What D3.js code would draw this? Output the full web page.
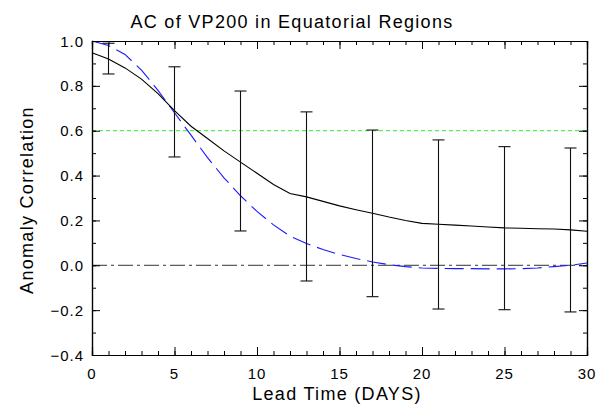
<!DOCTYPE html>
<html><head><meta charset="utf-8">
<script src="https://cdn.jsdelivr.net/npm/d3@7"></script>
<style>body{margin:0;background:#fff}svg{display:block}text{font-family:"Liberation Sans",Arial,sans-serif;fill:#000}</style>
</head><body>
<script>
const days = d3.range(0, 31);
const acBlack = [0.948,0.92,0.88,0.83,0.765,0.69,0.62,0.565,0.51,0.46,0.41,0.36,0.32,0.305,0.285,0.265,0.248,0.232,0.215,0.2,0.187,0.183,0.179,0.175,0.171,0.167,0.165,0.163,0.162,0.158,0.152];
const acBlue = [1.0,0.98,0.94,0.87,0.78,0.68,0.58,0.48,0.39,0.31,0.24,0.18,0.13,0.097,0.07,0.048,0.03,0.015,0.003,-0.006,-0.012,-0.014,-0.015,-0.015,-0.016,-0.016,-0.015,-0.012,-0.006,0.0,0.01];
const errDays = [1,5,9,13,17,21,25,29];
const errLow = [0.853,0.483,0.153,-0.07,-0.14,-0.195,-0.198,-0.208];
const errHigh = [0.99,0.885,0.777,0.684,0.603,0.559,0.529,0.523];
const xTicks = [0,5,10,15,20,25,30];
const yTicks = [-0.4,-0.2,0.0,0.2,0.4,0.6,0.8,1.0];
const refGreen = 0.6, refZero = 0.0;

const W=606,H=409;
const svg=d3.select("body").append("svg").attr("width",W).attr("height",H);
const L=92,R=587,T=41,B=355;
const x=d3.scaleLinear().domain([0,30]).range([L,R]);
const y=d3.scaleLinear().domain([-0.4,1.0]).range([B,T]);

// reference lines
svg.append("line").attr("x1",x(0)).attr("x2",x(30)).attr("y1",y(refGreen)).attr("y2",y(refGreen))
  .attr("stroke","#55ee55").attr("stroke-width",1.2).attr("stroke-dasharray","4,3");
svg.append("line").attr("x1",x(0)).attr("x2",x(30)).attr("y1",y(refZero)).attr("y2",y(refZero))
  .attr("stroke","#333").attr("stroke-width",1).attr("stroke-dasharray","15,4,3,4");

const line=d3.line().x((d,i)=>x(days[i])).y(d=>y(d));
svg.append("path").datum(acBlue).attr("d",line).attr("fill","none").attr("stroke","#1a1aff").attr("stroke-width",1.1).attr("stroke-dasharray","19,7");
svg.append("path").datum(acBlack).attr("d",line).attr("fill","none").attr("stroke","#000").attr("stroke-width",1.1);

// error bars
const eg=svg.append("g").attr("stroke","#111").attr("stroke-width",1.1);
errDays.forEach((d,i)=>{
  eg.append("line").attr("x1",x(d)).attr("x2",x(d)).attr("y1",y(errLow[i])).attr("y2",y(errHigh[i]));
  eg.append("line").attr("x1",x(d)-6).attr("x2",x(d)+6).attr("y1",y(errLow[i])).attr("y2",y(errLow[i]));
  eg.append("line").attr("x1",x(d)-6).attr("x2",x(d)+6).attr("y1",y(errHigh[i])).attr("y2",y(errHigh[i]));
});

// axes frame with inward ticks
function tickAxis(axisFn, scale, major, minor, transform, majorLen){
  const gMinor=svg.append("g").attr("transform",transform)
    .call(axisFn(scale).tickValues(minor).tickSize(majorLen/2).tickFormat(""));
  const gMajor=svg.append("g").attr("transform",transform)
    .call(axisFn(scale).tickValues(major).tickSize(majorLen).tickFormat(""));
  [gMinor,gMajor].forEach(g=>{g.select(".domain").attr("stroke","#000").attr("stroke-width",1.2);g.selectAll(".tick line").attr("stroke","#000").attr("stroke-width",1);});
}
const xMinor=d3.range(0,31), yMinor=d3.range(-4,11).map(v=>v/10);
// bottom axis: ticks pointing up -> axisTop placed at B
tickAxis(d3.axisTop,x,xTicks,xMinor,`translate(0,${B})`,8);
tickAxis(d3.axisBottom,x,xTicks,xMinor,`translate(0,${T})`,8);
tickAxis(d3.axisRight,y,yTicks,yMinor,`translate(${L},0)`,8);
tickAxis(d3.axisLeft,y,yTicks,yMinor,`translate(${R},0)`,8);

// tick labels
const fmtY=d=>(d<0?"\u2212":"")+Math.abs(d).toFixed(1);
svg.append("g").selectAll("text").data(yTicks).join("text")
  .attr("x",L-8).attr("y",d=>y(d)+5.5).attr("text-anchor","end")
  .attr("font-size",15).attr("letter-spacing",1).text(fmtY);
svg.append("g").selectAll("text").data(xTicks).join("text")
  .attr("x",d=>x(d)).attr("y",B+24).attr("text-anchor","middle")
  .attr("font-size",15).attr("letter-spacing",1).text(d=>d);

svg.append("text").attr("x",292).attr("y",28).attr("text-anchor","middle").attr("font-size",18).attr("letter-spacing",1.3).text("AC of VP200 in Equatorial Regions");
svg.append("text").attr("x",337).attr("y",400).attr("text-anchor","middle").attr("font-size",18).attr("letter-spacing",1.3).text("Lead Time (DAYS)");
svg.append("text").attr("transform","translate(33,200) rotate(-90)").attr("text-anchor","middle").attr("font-size",18).attr("letter-spacing",1.3).text("Anomaly Correlation");
</script>
</body></html>
